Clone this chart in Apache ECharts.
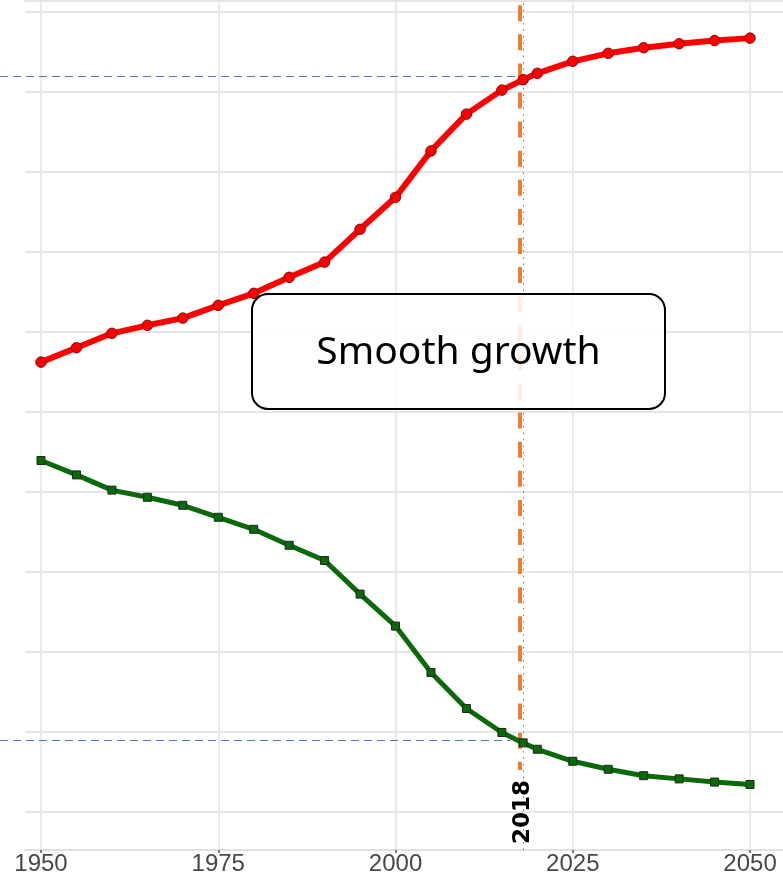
<!DOCTYPE html>
<html>
<head>
<meta charset="utf-8">
<script src="https://cdn.jsdelivr.net/npm/echarts@6/dist/echarts.min.js"></script>
<style>
html,body{margin:0;padding:0;background:#fff;}
#main{width:783px;height:885px;}
</style>
</head>
<body>
<div id="main"></div>
<script>
// ---- data ----
var years = [1950,1955,1960,1965,1970,1975,1980,1985,1990,1995,2000,2005,2010,2015,2018,2020,2025,2030,2035,2040,2045,2050];
var redValues = [5.62,5.80,5.98,6.08,6.17,6.33,6.48,6.68,6.87,7.28,7.68,8.26,8.72,9.02,9.15,9.23,9.38,9.48,9.55,9.60,9.64,9.67];
var greenValues = [4.39,4.21,4.02,3.93,3.83,3.68,3.53,3.33,3.14,2.72,2.32,1.74,1.29,0.99,0.86,0.78,0.63,0.53,0.45,0.41,0.37,0.34];
var xTickLabels = [1950,1975,2000,2025,2050];
var yGridValues = [0,1,2,3,4,5,6,7,8,9,10];
var markYear = 2018;
var markYearLabel = '2018';
var refUpper = {startYear:1944.22, endYear:2017.6, value:9.19};
var refLower = {startYear:1944.22, endYear:2016.2, value:0.89};
var annotationText = 'Smooth growth';

var xMin = 1947.74, xMax = 2054.65, yMin = -0.479, yMax = 10.134;

function pairs(xs, ys){ return xs.map(function(x,i){return [x, ys[i]];}); }

var chart = echarts.init(document.getElementById('main'));
var option = {
  animation:false,
  backgroundColor:'#fff',
  grid:{left:25,right:0,top:1,bottom:35,containLabel:false},
  xAxis:[{
    type:'value', min:xMin, max:xMax, position:'bottom',
    axisLine:{show:true,onZero:false,lineStyle:{color:'#d6d6d6',width:1.5}},
    axisTick:{show:true,length:3,customValues:xTickLabels,lineStyle:{color:'#555',width:1.5}},
    axisLabel:{show:true,customValues:xTickLabels,margin:2,color:'#484848',fontSize:24,
      fontFamily:"'Liberation Sans Narrow','Arial Narrow',sans-serif",formatter:function(v){return String(Math.round(v));}},
    splitLine:{show:true,lineStyle:{color:'#e4e4e4',width:1.5}}
  },{
    type:'value', min:xMin, max:xMax, position:'top',
    axisLine:{show:true,onZero:false,lineStyle:{color:'#e4e4e4',width:2}},
    axisTick:{show:false},axisLabel:{show:false},splitLine:{show:false}
  }],
  yAxis:{
    type:'value', min:yMin, max:yMax,
    axisLine:{show:false},
    axisTick:{show:false,customValues:yGridValues},
    axisLabel:{show:false,customValues:yGridValues},
    splitLine:{show:true,lineStyle:{color:'#e6e6e6',width:2}}
  },
  series:[
    {
      type:'line', name:'marks', silent:true, z:3,
      data:[],
      symbol:'none',
      markLine:{
        silent:true, symbol:['none','none'], animation:false,
        data:[
          [{coord:[markYear-0.5,yMax-0.001]},{coord:[markYear-0.5,0.52]}]
        ],
        lineStyle:{color:'#ed7d31',width:4,type:[16,13.1],dashOffset:25},
        label:{show:false}
      }
    },
    {
      type:'line', name:'marks2', silent:true, z:3,
      data:[],
      symbol:'none',
      markLine:{
        silent:true, symbol:['none','none'], animation:false,
        data:[{xAxis:markYear}],
        lineStyle:{color:'#777',width:1,type:[1.5,5]},
        label:{show:true,formatter:markYearLabel,position:'insideStart',distance:6,
          color:'#000',fontWeight:'bold',fontSize:23,fontFamily:"'DejaVu Sans',sans-serif"}
      }
    },
    {
      type:'line', name:'red', z:5,
      data:pairs(years, redValues),
      symbol:'circle', symbolSize:10.5,
      lineStyle:{color:'#ff0000',width:6},
      itemStyle:{color:'#ff0000',borderColor:'#7a1010',borderWidth:1}
    },
    {
      type:'line', name:'green', z:5,
      data:pairs(years, greenValues),
      symbol:'rect', symbolSize:8,
      lineStyle:{color:'#0a6a0a',width:5},
      itemStyle:{color:'#0a6a0a',borderColor:'#1a2a1a',borderWidth:1}
    }
  ]
};
chart.setOption(option);

function refLine(ref, id){
  var p1 = chart.convertToPixel({gridIndex:0},[ref.startYear, ref.value]);
  var p2 = chart.convertToPixel({gridIndex:0},[ref.endYear, ref.value]);
  return {type:'line', id:id, z:3, silent:true,
    shape:{x1:p1[0],y1:p1[1],x2:p2[0],y2:p2[1]},
    style:{stroke:'#4a76c6',lineWidth:1.2,lineDash:[8,5]}};
}
chart.setOption({
  graphic:[
    refLine(refUpper,'ru'),
    refLine(refLower,'rl'),
    {
      type:'group', id:'box', left:251, top:293, z:100,
      children:[
        {type:'rect', shape:{x:0,y:0,width:413,height:115,r:16},
         style:{fill:'rgba(255,255,255,0.86)',stroke:'#000',lineWidth:2}, z:100},
        {type:'text', x:206.5, y:59, z:101,
         style:{text:annotationText,fill:'#000',font:"normal 39px 'Noto Sans',sans-serif",align:'center',verticalAlign:'middle'}}
      ]
    }
  ]
});
</script>
</body>
</html>
